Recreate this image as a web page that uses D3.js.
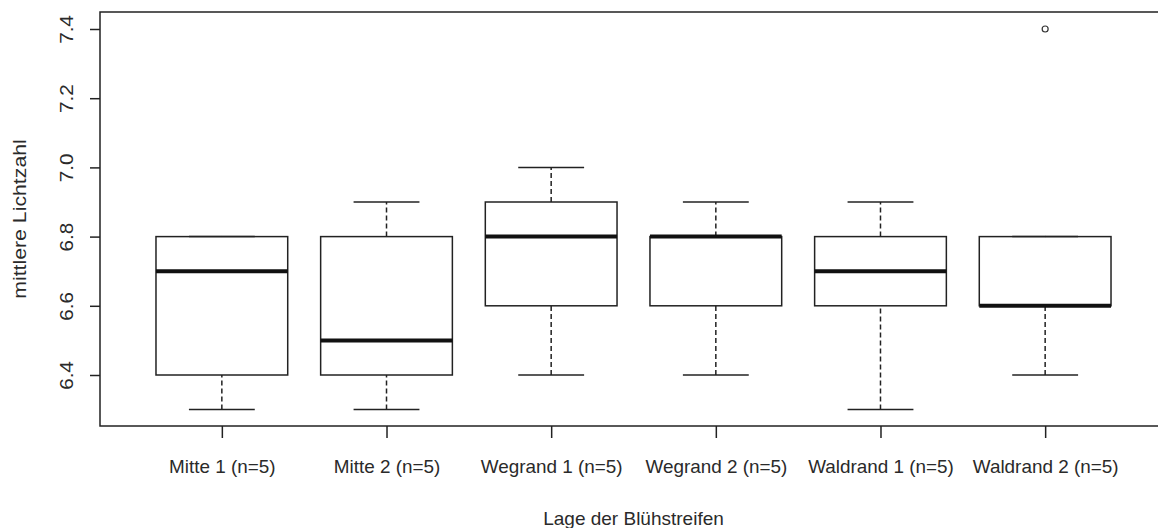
<!DOCTYPE html>
<meta charset="utf-8">
<style>
body { margin: 0; background: #fff; }
text { font-family: "Liberation Sans", Arial, sans-serif; fill: #2a2a2a; }
.frame, .box, .cap { fill: none; stroke: #222; stroke-width: 1.5px; }
.median { stroke: #111; stroke-width: 4px; }
.whisker { stroke: #222; stroke-width: 1.5px; stroke-dasharray: 5,3; }
</style>
<body>
<script src="https://d3js.org/d3.v7.min.js"></script>
<script>

// data
var groups = ["Mitte 1 (n=5)", "Mitte 2 (n=5)", "Wegrand 1 (n=5)", "Wegrand 2 (n=5)", "Waldrand 1 (n=5)", "Waldrand 2 (n=5)"];
var lowWhisker = [6.3, 6.3, 6.4, 6.4, 6.3, 6.4];
var q1 = [6.4, 6.4, 6.6, 6.6, 6.6, 6.6];
var median = [6.7, 6.5, 6.8, 6.8, 6.7, 6.6];
var q3 = [6.8, 6.8, 6.9, 6.8, 6.8, 6.8];
var highWhisker = [6.8, 6.9, 7.0, 6.9, 6.9, 6.8];
var outliers = [[], [], [], [], [], [7.4]];
var yTicks = [6.4, 6.6, 6.8, 7.0, 7.2, 7.4];

var width = 1158, height = 528;
var plotLeft = 100, plotTop = 12, plotBottom = 426;

var svg = d3.select("body").append("svg")
    .attr("width", width)
    .attr("height", height);

// R style: xlim 0.5..n+0.5 stretched by 4%
var n = groups.length;
var xr = [0.5, n + 0.5], pad = (xr[1] - xr[0]) * 0.04;
var x = d3.scaleLinear().domain([xr[0] - pad, xr[1] + pad]).range([plotLeft, 1167]);

var y = d3.scaleLinear().domain([6.4, 7.4]).range([375, 29]);

var bw = x(1.4) - x(1);   // half box width (boxwex 0.8)
var cw = bw / 2;          // half cap width

var data = groups.map(function(g, i) {
  return {name: g, i: i + 1, lo: lowWhisker[i], q1: q1[i], med: median[i],
          q3: q3[i], hi: highWhisker[i], out: outliers[i]};
});

var g = svg.selectAll(".grp").data(data).enter().append("g");

// whiskers
g.append("line").attr("class", "whisker")
  .attr("x1", function(d) { return x(d.i); }).attr("x2", function(d) { return x(d.i); })
  .attr("y1", function(d) { return y(d.lo); }).attr("y2", function(d) { return y(d.q1); });
g.append("line").attr("class", "whisker")
  .attr("x1", function(d) { return x(d.i); }).attr("x2", function(d) { return x(d.i); })
  .attr("y1", function(d) { return y(d.q3); }).attr("y2", function(d) { return y(d.hi); });

// caps
g.append("line").attr("class", "cap")
  .attr("x1", function(d) { return x(d.i) - cw; }).attr("x2", function(d) { return x(d.i) + cw; })
  .attr("y1", function(d) { return y(d.lo); }).attr("y2", function(d) { return y(d.lo); });
g.append("line").attr("class", "cap")
  .attr("x1", function(d) { return x(d.i) - cw; }).attr("x2", function(d) { return x(d.i) + cw; })
  .attr("y1", function(d) { return y(d.hi); }).attr("y2", function(d) { return y(d.hi); });

// boxes
g.append("rect").attr("class", "box")
  .attr("x", function(d) { return x(d.i) - bw; })
  .attr("width", 2 * bw)
  .attr("y", function(d) { return y(d.q3); })
  .attr("height", function(d) { return y(d.q1) - y(d.q3); });

// medians
g.append("line").attr("class", "median")
  .attr("x1", function(d) { return x(d.i) - bw; }).attr("x2", function(d) { return x(d.i) + bw; })
  .attr("y1", function(d) { return y(d.med); }).attr("y2", function(d) { return y(d.med); });

// outliers
g.selectAll(".out").data(function(d) { return d.out.map(function(v) { return {i: d.i, v: v}; }); })
  .enter().append("circle")
  .attr("cx", function(d) { return x(d.i); })
  .attr("cy", function(d) { return y(d.v); })
  .attr("r", 3)
  .attr("fill", "none").attr("stroke", "#333").attr("stroke-width", 1.2);

// frame (right side runs off the picture)
svg.append("rect").attr("class", "frame")
  .attr("x", plotLeft).attr("y", plotTop)
  .attr("width", x.range()[1] - plotLeft).attr("height", plotBottom - plotTop);

// y axis
var yAxis = svg.append("g")
  .attr("transform", "translate(" + plotLeft + ",0)")
  .call(d3.axisLeft(y).tickValues(yTicks).tickFormat(d3.format(".1f")).tickSize(10).tickPadding(0));
yAxis.select(".domain").remove();
yAxis.selectAll("line").attr("stroke", "#222").attr("stroke-width", 1.5);
yAxis.selectAll("text")
  .attr("x", 0).attr("dy", 0).attr("y", 6)
  .attr("text-anchor", "middle")
  .attr("transform", "translate(-33,0) rotate(-90) scale(1.15,1)")
  .style("font-size", "18px");

// x axis
var xAxis = svg.append("g")
  .attr("transform", "translate(0," + plotBottom + ")")
  .call(d3.axisBottom(x).tickValues(d3.range(1, n + 1)).tickFormat(function(d) { return groups[d - 1]; }).tickSize(12).tickPadding(22));
xAxis.select(".domain").remove();
xAxis.selectAll("line").attr("stroke", "#222").attr("stroke-width", 1.5);
xAxis.selectAll("text").style("font-size", "18px")
  .attr("transform", "scale(1.05,1)");

// axis titles
svg.append("text")
  .attr("x", x((1 + n) / 2)).attr("y", 525)
  .attr("text-anchor", "middle")
  .style("font-size", "19px")
  .text("Lage der Blühstreifen");

svg.append("text")
  .attr("transform", "translate(26,219) rotate(-90) scale(1.12,1)")
  .attr("text-anchor", "middle")
  .style("font-size", "19px")
  .text("mittlere Lichtzahl");

</script>
</body>
